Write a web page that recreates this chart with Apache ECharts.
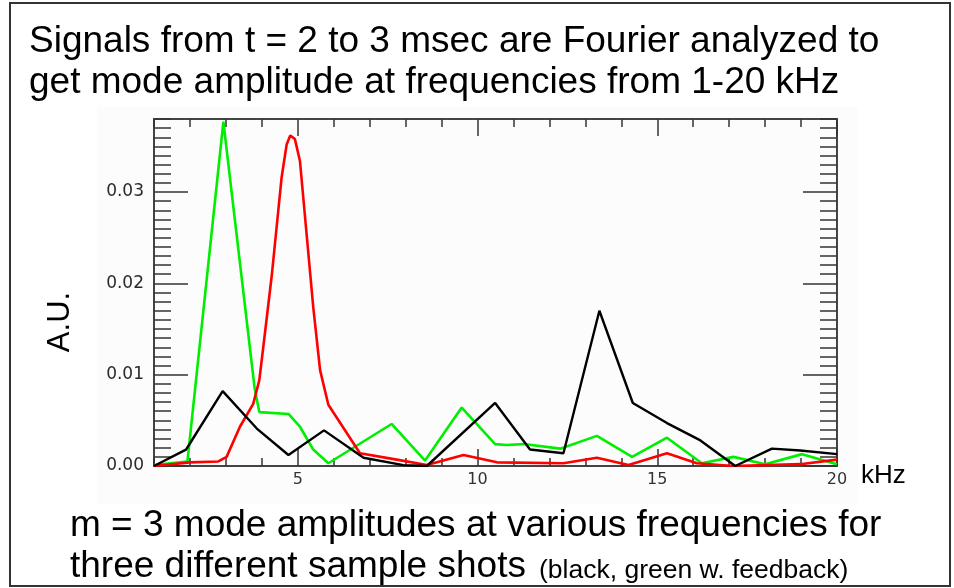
<!DOCTYPE html>
<html>
<head>
<meta charset="utf-8">
<style>
  html, body { margin: 0; padding: 0; background: #ffffff; }
  #chart { width: 954px; height: 588px; }
</style>
<script src="https://cdn.jsdelivr.net/npm/echarts@6/dist/echarts.min.js"></script>
</head>
<body>
<div id="chart"></div>
<script>
// m = 3 mode amplitude spectra (A.U.) versus frequency (kHz) for three shots
const blackFreq = [1.0, 1.89, 2.02, 2.91, 3.86, 4.74, 4.79, 5.73, 6.83, 7.94, 8.59, 10.49, 11.46, 12.39, 13.39, 14.32, 15.27, 16.2, 17.17, 18.19, 18.98, 20.0];
const blackAmp  = [0.0, 0.0018, 0.0026, 0.0082, 0.0041, 0.0012, 0.0011, 0.0039, 0.0009, 0.0001, 0.0, 0.0069, 0.0018, 0.0014, 0.0170, 0.0069, 0.0047, 0.0028, 0.0, 0.0019, 0.0017, 0.0013];

const greenFreq = [1.0, 1.93, 2.93, 3.80, 3.93, 4.74, 5.06, 5.43, 5.85, 7.61, 8.54, 9.56, 10.49, 10.8, 11.28, 12.3, 13.32, 14.3, 15.27, 16.24, 17.12, 18.0, 19.03, 20.0];
const greenAmp  = [0.0001, 0.0005, 0.0377, 0.0085, 0.0059, 0.0057, 0.0043, 0.0018, 0.0003, 0.0046, 0.0006, 0.0064, 0.0024, 0.0023, 0.0024, 0.0019, 0.0033, 0.0010, 0.0031, 0.0003, 0.0010, 0.0002, 0.0013, 0.0002];

const redFreq = [1.0, 2.0, 2.79, 3.02, 3.39, 3.76, 3.93, 4.10, 4.28, 4.55, 4.69, 4.79, 4.92, 5.06, 5.43, 5.62, 5.85, 6.73, 7.75, 8.59, 9.61, 10.54, 12.39, 13.32, 14.2, 15.27, 16.1, 17.12, 18.98, 20.0];
const redAmp  = [0.0, 0.0004, 0.0005, 0.0010, 0.0043, 0.0068, 0.0094, 0.0150, 0.0210, 0.0316, 0.0352, 0.0362, 0.0358, 0.0334, 0.0174, 0.0105, 0.0067, 0.0014, 0.0007, 0.0001, 0.0012, 0.0004, 0.0003, 0.0009, 0.0001, 0.0014, 0.0003, 0.0, 0.0002, 0.0007];

// axis ticks
const xMajorTicks = [5, 10, 15, 20];
const yMajorTicks = [0, 0.01, 0.02, 0.03];
const xRange = [1, 20];
const yRange = [0, 0.038];

const titleLines = [
  'Signals from t = 2 to 3 msec are Fourier analyzed to',
  'get mode amplitude at frequencies from 1-20 kHz'
];
const captionLines = [
  'm = 3 mode amplitudes at various frequencies for',
  'three different sample shots'
];
const captionNote = '(black, green w. feedback)';
const yTitle = 'A.U.';
const xUnit = 'kHz';

const zip = (xs, ys) => xs.map((x, i) => [x, ys[i]]);

const TEXT_FONT = '"Liberation Sans", Arial, Helvetica, sans-serif';
const TICK_FONT = '"DejaVu Sans", sans-serif';
const frameLine = { show: true, onZero: false, lineStyle: { color: '#444', width: 2 } };
const noLine = { show: false, onZero: false };
const tickStyle = { color: '#333', width: 1.5 };

function xAxisDef(position, major) {
  return {
    type: 'value', position: position, min: xRange[0], max: xRange[1],
    interval: 1,
    axisLine: major ? frameLine : noLine,
    axisTick: major
      ? { show: true, inside: true, length: 17, lineStyle: tickStyle, customValues: xMajorTicks }
      : { show: true, inside: true, length: 8, lineStyle: tickStyle },
    axisLabel: (major && position === 'bottom')
      ? { show: true, customValues: xMajorTicks, margin: 6, color: '#333', fontFamily: TICK_FONT, fontSize: 16 }
      : { show: false },
    splitLine: { show: false }
  };
}

function yAxisDef(position, major) {
  return {
    type: 'value', position: position, min: yRange[0], max: yRange[1],
    interval: 0.001,
    axisLine: major ? frameLine : noLine,
    axisTick: major
      ? { show: true, inside: true, length: 34, lineStyle: tickStyle, customValues: yMajorTicks }
      : { show: true, inside: true, length: 17, lineStyle: tickStyle },
    axisLabel: (major && position === 'left')
      ? { show: true, customValues: yMajorTicks, margin: 10, color: '#2a2a2a', fontFamily: TICK_FONT, fontSize: 17,
          formatter: v => v.toFixed(2) }
      : { show: false },
    splitLine: { show: false }
  };
}

const chart = echarts.init(document.getElementById('chart'), null, { renderer: 'canvas' });

chart.setOption({
  animation: false,
  backgroundColor: '#ffffff',
  grid: { left: 154, top: 119, width: 683, height: 347, containLabel: false },
  xAxis: [xAxisDef('bottom', true), xAxisDef('bottom', false), xAxisDef('top', true), xAxisDef('top', false)],
  yAxis: [yAxisDef('left', true), yAxisDef('left', false), yAxisDef('right', true), yAxisDef('right', false)],
  graphic: [
    // pasted plot panel, slightly off-white
    { type: 'rect', z: -10, shape: { x: 97, y: 107, width: 761, height: 397 }, style: { fill: '#fcfcfc' } },
    // outer frame
    { type: 'rect', z: 10, shape: { x: 10, y: 3, width: 940, height: 583 }, style: { fill: 'none', stroke: '#333', lineWidth: 2 } },
    { type: 'text', x: 29, y: 42, style: { text: titleLines[0], font: '37px ' + TEXT_FONT, fill: '#000', verticalAlign: 'middle' } },
    { type: 'text', x: 29, y: 83, style: { text: titleLines[1], font: '37px ' + TEXT_FONT, fill: '#000', verticalAlign: 'middle' } },
    { type: 'text', x: 70, y: 526, style: { text: captionLines[0], font: '37px ' + TEXT_FONT, fill: '#000', verticalAlign: 'middle' } },
    { type: 'text', x: 70, y: 567, style: { text: captionLines[1], font: '37px ' + TEXT_FONT, fill: '#000', verticalAlign: 'middle' } },
    { type: 'text', x: 539, y: 571, style: { text: captionNote, font: '26.5px ' + TEXT_FONT, fill: '#000', verticalAlign: 'middle' } },
    { type: 'text', x: 60, y: 322, rotation: Math.PI / 2,
      style: { text: yTitle, font: '31px ' + TEXT_FONT, fill: '#000', align: 'center', verticalAlign: 'middle' } },
    { type: 'text', x: 861, y: 476, style: { text: xUnit, font: '26px ' + TEXT_FONT, fill: '#000', verticalAlign: 'middle' } }
  ],
  series: [
    { name: 'green', type: 'line', xAxisIndex: 0, yAxisIndex: 0, data: zip(greenFreq, greenAmp),
      showSymbol: false, lineStyle: { color: '#00ee00', width: 2.6 }, z: 3 },
    { name: 'red', type: 'line', xAxisIndex: 0, yAxisIndex: 0, data: zip(redFreq, redAmp),
      showSymbol: false, lineStyle: { color: '#ff0000', width: 2.6 }, z: 4 },
    { name: 'black', type: 'line', xAxisIndex: 0, yAxisIndex: 0, data: zip(blackFreq, blackAmp),
      showSymbol: false, lineStyle: { color: '#000000', width: 2.4 }, z: 5 }
  ]
});
</script>
</body>
</html>
